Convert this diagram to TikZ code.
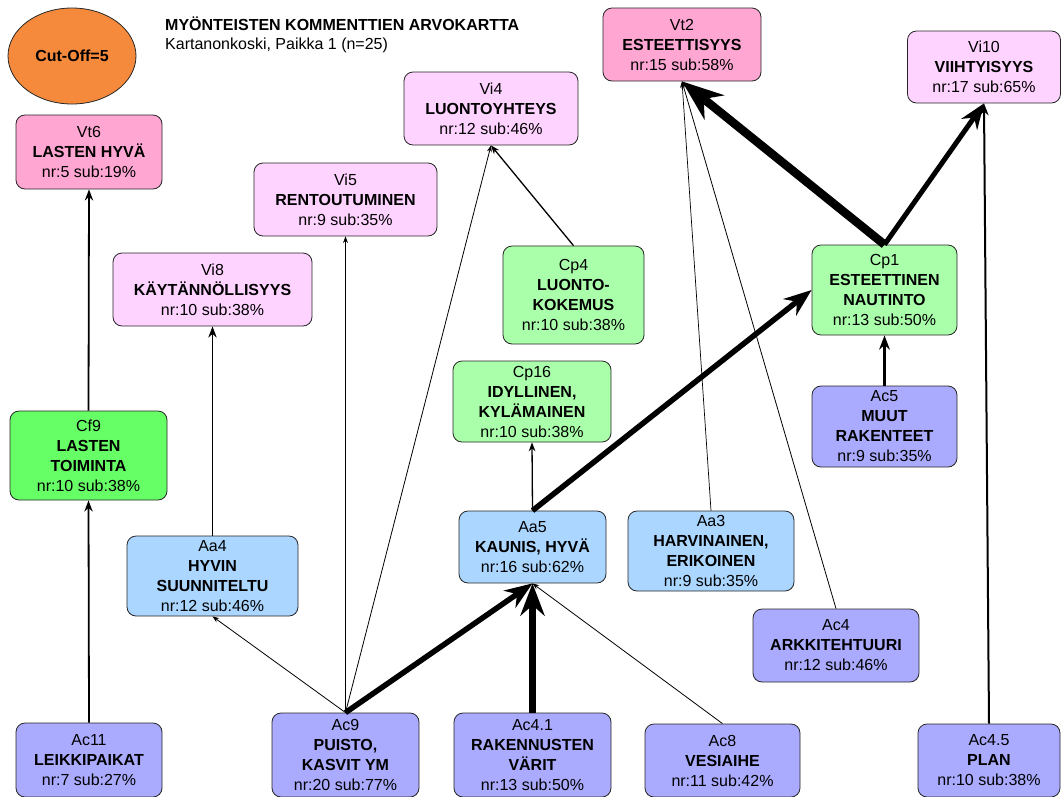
\documentclass[tikz,border=0pt]{standalone}
\usepackage{fontspec}
\setmainfont{Liberation Sans}
\usetikzlibrary{arrows.meta,shapes.geometric}

\definecolor{vtpink}{RGB}{255,166,210}
\definecolor{vipink}{RGB}{255,211,255}
\definecolor{cpgreen}{RGB}{170,255,170}
\definecolor{cfgreen}{RGB}{102,255,102}
\definecolor{aablue}{RGB}{170,214,255}
\definecolor{acblue}{RGB}{170,170,255}
\definecolor{cutorange}{RGB}{245,138,60}

\begin{document}
\begin{tikzpicture}[
    x=1pt, y=-1pt,
    box/.style={rectangle, rounded corners=9pt, draw=black!85, line width=0.8pt, align=center, inner sep=1pt, font=\fontsize{16}{20}\selectfont},
    vt/.style={box, fill=vtpink},
    vi/.style={box, fill=vipink},
    cp/.style={box, fill=cpgreen},
    cf/.style={box, fill=cfgreen},
    aa/.style={box, fill=aablue},
    ac/.style={box, fill=acblue},
    arr/.style={-{Stealth}, line width=#1}
]
\useasboundingbox (0,0) rectangle (1061,796);

% header
\node[ellipse, draw=black!85, line width=0.8pt, fill=cutorange, minimum width=128pt, minimum height=96pt, font=\fontsize{16}{20}\selectfont\bfseries] (cutoff) at (72,56) {Cut-Off=5};
\node[anchor=west, inner sep=0pt, font=\fontsize{16}{20}\selectfont\bfseries] (title) at (165,24) {MYÖNTEISTEN KOMMENTTIEN ARVOKARTTA};
\node[anchor=west, inner sep=0pt, font=\fontsize{16}{20}\selectfont] (subtitle) at (165,45) {Kartanonkoski, Paikka 1 (n=25)};

% top row
\node[vt, minimum width=146pt, minimum height=74pt] (vt6) at (89,152) {Vt6\\\textbf{LASTEN HYVÄ}\\nr:5 sub:19\%};
\node[vt, minimum width=158pt, minimum height=73pt] (vt2) at (682,44.5) {Vt2\\\textbf{ESTEETTISYYS}\\nr:15 sub:58\%};
\node[vi, minimum width=153pt, minimum height=72pt] (vi10) at (984,67) {Vi10\\\textbf{VIIHTYISYYS}\\nr:17 sub:65\%};
\node[vi, minimum width=174pt, minimum height=73pt] (vi4) at (491,108.5) {Vi4\\\textbf{LUONTOYHTEYS}\\nr:12 sub:46\%};
\node[vi, minimum width=183pt, minimum height=73pt] (vi5) at (345.5,199.5) {Vi5\\\textbf{RENTOUTUMINEN}\\nr:9 sub:35\%};
\node[vi, minimum width=199pt, minimum height=73pt] (vi8) at (212.5,289.5) {Vi8\\\textbf{KÄYTÄNNÖLLISYYS}\\nr:10 sub:38\%};

% consequences
\node[cp, minimum width=141pt, minimum height=98pt] (cp4) at (573.5,295) {Cp4\\\textbf{LUONTO-}\\\textbf{KOKEMUS}\\nr:10 sub:38\%};
\node[cp, minimum width=145pt, minimum height=90pt] (cp1) at (884.5,290) {Cp1\\\textbf{ESTEETTINEN}\\\textbf{NAUTINTO}\\nr:13 sub:50\%};
\node[cp, minimum width=158pt, minimum height=81pt] (cp16) at (532,401.5) {Cp16\\\textbf{IDYLLINEN,}\\\textbf{KYLÄMAINEN}\\nr:10 sub:38\%};
\node[cf, minimum width=157pt, minimum height=89pt] (cf9) at (88.5,455.5) {Cf9\\\textbf{LASTEN}\\\textbf{TOIMINTA}\\nr:10 sub:38\%};

% attributes
\node[ac, minimum width=145pt, minimum height=81pt] (ac5) at (884.5,426.5) {Ac5\\\textbf{MUUT}\\\textbf{RAKENTEET}\\nr:9 sub:35\%};
\node[aa, minimum width=171pt, minimum height=80pt] (aa4) at (212.5,576) {Aa4\\\textbf{HYVIN}\\\textbf{SUUNNITELTU}\\nr:12 sub:46\%};
\node[aa, minimum width=147pt, minimum height=72pt] (aa5) at (532.5,547) {Aa5\\\textbf{KAUNIS, HYVÄ}\\nr:16 sub:62\%};
\node[aa, minimum width=166pt, minimum height=80pt] (aa3) at (711,551) {Aa3\\\textbf{HARVINAINEN,}\\\textbf{ERIKOINEN}\\nr:9 sub:35\%};
\node[ac, minimum width=166pt, minimum height=73pt] (ac4) at (836,645.5) {Ac4\\\textbf{ARKKITEHTUURI}\\nr:12 sub:46\%};

% bottom row
\node[ac, minimum width=146pt, minimum height=74pt] (ac11) at (89,760) {Ac11\\\textbf{LEIKKIPAIKAT}\\nr:7 sub:27\%};
\node[ac, minimum width=147pt, minimum height=84pt] (ac9) at (345.5,755) {Ac9\\\textbf{PUISTO,}\\\textbf{KASVIT YM}\\nr:20 sub:77\%};
\node[ac, minimum width=157pt, minimum height=84pt] (ac41) at (532.5,755) {Ac4.1\\\textbf{RAKENNUSTEN}\\\textbf{VÄRIT}\\nr:13 sub:50\%};
\node[ac, minimum width=155pt, minimum height=73pt] (ac8) at (722.5,760.5) {Ac8\\\textbf{VESIAIHE}\\nr:11 sub:42\%};
\node[ac, minimum width=142pt, minimum height=73pt] (ac45) at (989,760.5) {Ac4.5\\\textbf{PLAN}\\nr:10 sub:38\%};

% links
\draw[arr=1.8pt] (ac11.north) -- (cf9.south);
\draw[arr=1.8pt] (cf9.north) -- (vt6.south);
\draw[arr=1.8pt] (aa4.north) -- (vi8.south);
\draw[arr=0.8pt] (ac9.north) -- (aa4.south);
\draw[arr=0.8pt] (ac9.north) -- (vi5.south);
\draw[arr=0.8pt] (ac9.north) -- (vi4.south);
\draw[arr=5.5pt] (ac9.north) -- (aa5.south);
\draw[arr=6.5pt] (ac41.north) -- (aa5.south);
\draw[arr=0.8pt] (ac8.north) -- (aa5.south);
\draw[arr=1.3pt] (aa5.north) -- (cp16.south);
\draw[arr=5.5pt] (aa5.north) -- (cp1.west);
\draw[arr=1.3pt] (cp4.north) -- (vi4.south);
\draw[arr=0.7pt] (aa3.north) -- (vt2.south);
\draw[arr=0.8pt] (ac4.north) -- (vt2.south);
\draw[arr=8.5pt] (cp1.north) -- (vt2.south);
\draw[arr=5pt] (cp1.north) -- (vi10.south);
\draw[arr=2.5pt] (ac5.north) -- (cp1.south);
\draw[arr=2pt] (ac45.north) -- (vi10.south);
\end{tikzpicture}
\end{document}
